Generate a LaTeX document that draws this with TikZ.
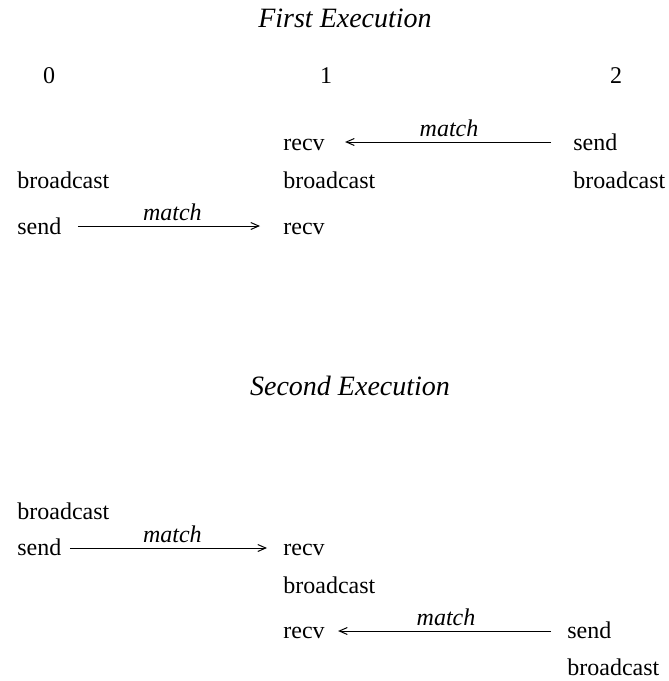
\documentclass[tikz,border=0pt]{standalone}
\usepackage{fontspec}
\setmainfont{Liberation Serif}
\usetikzlibrary{arrows.meta}

\tikzset{
  op/.style={anchor=base west,inner sep=0pt,font=\fontsize{12}{14}\selectfont},
  title/.style={anchor=base,inner sep=0pt,font=\fontsize{14}{16}\selectfont\itshape},
  rank/.style={anchor=base,inner sep=0pt,font=\fontsize{12}{14}\selectfont},
  msg/.style={-{Straight Barb[length=4pt,width=3.5pt]},line width=0.5pt},
  lbl/.style={above,inner sep=2.5pt,font=\fontsize{12}{14}\selectfont\itshape}
}

\begin{document}
\begin{tikzpicture}[x=0.5pt,y=-0.5pt]
\useasboundingbox (0,0) rectangle (669,681);

% first execution
\node[title] (t1) at (345,27) {First Execution};
\node[rank] (p0) at (49,83) {0};
\node[rank] (p1) at (326,83) {1};
\node[rank] (p2) at (616,83) {2};

\node[op] (a1) at (283,150) {recv};
\node[op] (a2) at (573,150) {send};
\node[op] (a3) at (17,188) {broadcast};
\node[op] (a4) at (283,188) {broadcast};
\node[op] (a5) at (573,188) {broadcast};
\node[op] (a6) at (17,234) {send};
\node[op] (a7) at (283,234) {recv};

\draw[msg,shorten <=11pt,shorten >=10pt] (a2.west|-0,142) -- (a1.east|-0,142)
  node[lbl,midway] {match};
\draw[msg,shorten <=8pt,shorten >=11.5pt] (a6.east|-0,226) -- (a7.west|-0,226)
  node[lbl,midway] {match};

% second execution
\node[title] (t2) at (350,395) {Second Execution};

\node[op] (b1) at (17,519) {broadcast};
\node[op] (b2) at (17,555) {send};
\node[op] (b3) at (283,555) {recv};
\node[op] (b4) at (283,593) {broadcast};
\node[op] (b5) at (283,638) {recv};
\node[op] (b6) at (567,638) {send};
\node[op] (b7) at (567,675) {broadcast};

\draw[msg,shorten <=4pt,shorten >=8pt] (b2.east|-0,548) -- (b3.west|-0,548)
  node[lbl,midway] {match};
\draw[msg,shorten <=8pt,shorten >=6.5pt] (b6.west|-0,631) -- (b5.east|-0,631)
  node[lbl,midway] {match};
\end{tikzpicture}
\end{document}
